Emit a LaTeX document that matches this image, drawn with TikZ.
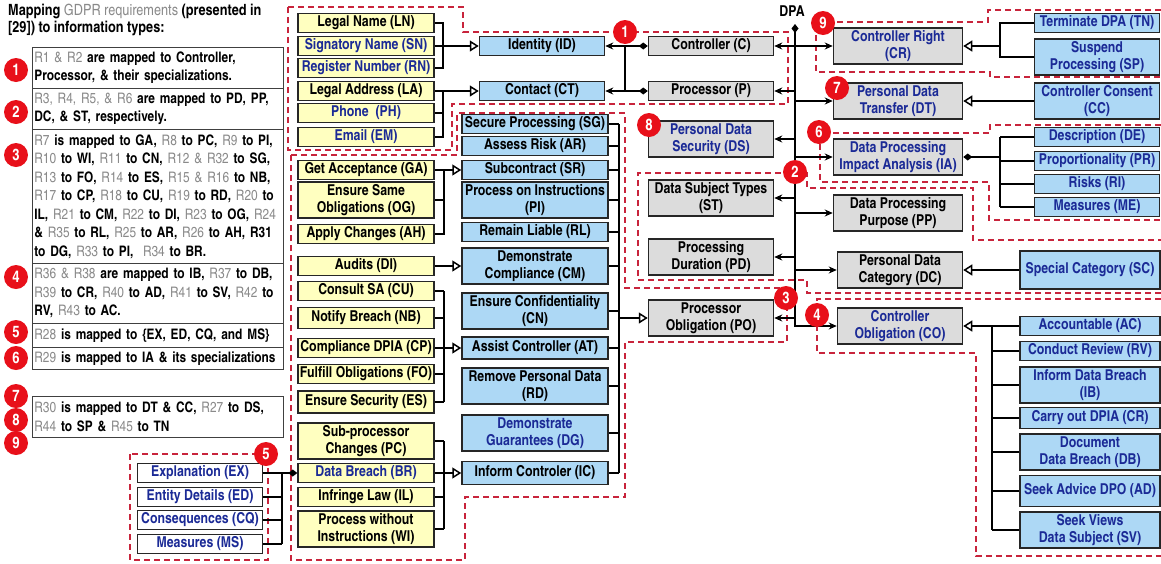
\documentclass[tikz,border=0pt]{standalone}
\usepackage{fontspec}
\setmainfont{texgyreheroscn}[Extension=.otf, UprightFont=*-regular, BoldFont=*-bold, ItalicFont=*-italic, BoldItalicFont=*-bolditalic]
\usetikzlibrary{arrows.meta, positioning}
\definecolor{boxyellow}{HTML}{FFFFC0}
\definecolor{boxblue}{HTML}{ADD8F5}
\definecolor{boxgray}{HTML}{DCDCDC}
\definecolor{txtnavy}{HTML}{1B2A96}
\definecolor{grpred}{HTML}{C8243C}
\definecolor{badgered}{HTML}{E8101A}
\definecolor{reqgray}{HTML}{8A8A8A}
\newcommand{\req}[1]{{\mdseries\color{reqgray}#1}}

\begin{document}
\begin{tikzpicture}[x=1pt, y=-1pt,
  box/.style={draw=black!85, line width=1.5pt, inner xsep=2pt, inner ysep=2.5pt, minimum height=19pt, align=center, font=\bfseries\fontsize{15}{17}\selectfont},
  ybox/.style={box, fill=boxyellow, minimum width=136pt},
  bbox/.style={box, fill=boxblue},
  gbox/.style={box, fill=boxgray, minimum width=125pt},
  wbox/.style={box, fill=white, minimum width=125pt},
  navy/.style={text=txtnavy},
  link/.style={line width=1.5pt, draw=black},
  opentip/.style={-{Triangle[open, length=9pt, width=11pt]}},
  dia/.style={{Diamond[length=9pt, width=7pt]}-{Stealth[length=8pt, width=7pt]}},
  group/.style={draw=grpred, dash pattern=on 6pt off 4pt, line width=1.3pt},
  badge/.style={circle, fill=badgered, text=white, inner sep=0pt, minimum size=24pt, font=\bfseries\fontsize{16}{16}\selectfont},
  row/.style={draw=black!75, line width=0.8pt, anchor=north west, text width=247pt, inner xsep=2pt, inner ysep=0pt, align=left, font=\bfseries\fontsize{14.5}{18.5}\selectfont}]
\useasboundingbox (0,0) rectangle (1161,563);

% Dashed groups
\draw[group] (288,7) -- (463,7) -- (463,32) -- (788,32) -- (788,104) -- (452,104) -- (452,150) -- (288,150) -- cycle;
\draw[group] (291,155) -- (457,155) -- (457,113) -- (625,113) -- (625,288) -- (787,288) -- (787,342) -- (625,342) -- (625,497) -- (465,497) -- (465,560) -- (291,560) -- cycle;
\draw[group] (1161,293) -- (807,293) -- (807,280) -- (638,280) -- (638,173) -- (807,173) -- (807,188) -- (973,188) -- (973,240) -- (1161,240);
\draw[group] (1161,299) -- (817,299) -- (817,353) -- (976,353) -- (976,556) -- (1161,556);
\draw[group] (1161,125) -- (990,125) -- (990,133) -- (820,133) -- (820,182) -- (989,182) -- (989,220) -- (1161,220);
\draw[group] (1161,10) -- (988,10) -- (988,22) -- (816,22) -- (816,72) -- (990,72) -- (990,77) -- (1161,77);
\draw[group] (130,454) rectangle (268,560);

% Mapping table
\node[anchor=north west, align=left, inner sep=0pt, font=\bfseries\fontsize{15.5}{17}\selectfont] (title) at (8,4)
  {Mapping \req{GDPR requirements} (presented in\\{}[29]) to information types:};
\node[row, minimum height=41pt] (row1) at (32,47)
  {\req{R1 \& R2} are mapped to Controller,\\ Processor, \& their specializations.};
\node[row, minimum height=41pt] (row2) at (32,88)
  {\req{R3, R4, R5, \& R6} are mapped to PD, PP,\\ DC, \& ST, respectively.};
\node[row, minimum height=134pt] (row3) at (32,129)
  {\req{R7} is mapped to GA, \req{R8} to PC, \req{R9} to PI,\\
   \req{R10} to WI, \req{R11} to CN, \req{R12 \& R32} to SG,\\
   \req{R13} to FO, \req{R14} to ES, \req{R15 \& R16} to NB,\\
   \req{R17} to CP, \req{R18} to CU, \req{R19} to RD, \req{R20} to\\
   IL, \req{R21} to CM, \req{R22} to DI, \req{R23} to OG, \req{R24}\\
   \& \req{R35} to RL, \req{R25} to AR, \req{R26} to AH, R31\\
   to DG, \req{R33} to PI,\ \ \req{R34} to BR.};
\node[row, minimum height=60pt] (row4) at (32,263)
  {\req{R36 \& R38} are mapped to IB, \req{R37} to DB,\\ \req{R39} to CR, \req{R40} to AD, \req{R41} to SV, \req{R42} to\\ RV, \req{R43} to AC.};
\node[row, minimum height=24pt] (row5) at (32,323)
  {\req{R28} is mapped to \{EX, ED, CQ, and MS\}};
\node[row, minimum height=22pt] (row6) at (32,347)
  {\req{R29} is mapped to IA \& its specializations};
\node[row, minimum height=41pt] (row7) at (32,396)
  {\req{R30} is mapped to DT \& CC, \req{R27} to DS,\\ \req{R44} to SP \& \req{R45} to TN};

% Identity and contact
\node[ybox] (ln) at (366,23) {Legal Name (LN)};
\node[ybox, navy] (sn) at (366,46) {Signatory Name (SN)};
\node[ybox, navy] (rn) at (366,68) {Register Number (RN)};
\node[ybox] (la) at (366,91) {Legal Address (LA)};
\node[ybox, navy] (ph) at (366,113) {Phone\ \ (PH)};
\node[ybox, navy] (em) at (366,137) {Email (EM)};
\node[bbox, minimum width=125pt] (id) at (542,46) {Identity (ID)};
\node[bbox, minimum width=125pt] (ct) at (542,91) {Contact (CT)};
\node[gbox] (c) at (711,46) {Controller (C)};
\node[gbox] (p) at (711,91) {Processor (P)};

% Processor obligations
\node[ybox] (ga) at (366,170) {Get Acceptance (GA)};
\node[ybox] (og) at (366,200) {Ensure Same\\Obligations (OG)};
\node[ybox] (ah) at (366,234) {Apply Changes (AH)};
\node[ybox] (di) at (366,266) {Audits (DI)};
\node[ybox] (cu) at (366,291) {Consult SA (CU)};
\node[ybox, minimum height=21pt] (nb) at (366,318) {Notify Breach (NB)};
\node[ybox] (cp) at (366,348) {Compliance DPIA (CP)};
\node[ybox] (fo) at (366,374) {Fulfill Obligations (FO)};
\node[ybox, minimum height=22pt] (es) at (366,402) {Ensure Security (ES)};
\node[ybox] (pc) at (366,441) {Sub-processor\\Changes (PC)};
\node[ybox, navy] (br) at (366,473) {Data Breach (BR)};
\node[ybox] (il) at (366,497) {Infringe Law (IL)};
\node[ybox] (wi) at (366,529) {Process without\\Instructions (WI)};

\node[bbox, minimum width=146pt] (sg) at (535,124) {Secure Processing (SG)};
\node[bbox, minimum width=146pt] (ar) at (535,146) {Assess Risk (AR)};
\node[bbox, minimum width=146pt] (sr) at (535,170) {Subcontract (SR)};
\node[bbox, minimum width=146pt] (pi) at (535,200) {Process on Instructions\\(PI)};
\node[bbox, minimum width=146pt] (rl) at (535,232) {Remain Liable (RL)};
\node[bbox, minimum width=146pt] (cm) at (535,266) {Demonstrate\\Compliance (CM)};
\node[bbox, minimum width=146pt] (cn) at (535,311) {Ensure Confidentiality\\(CN)};
\node[bbox, minimum width=146pt, minimum height=22pt] (at) at (535,348) {Assist Controller (AT)};
\node[bbox, minimum width=146pt] (rd) at (535,386) {Remove Personal Data\\(RD)};
\node[bbox, minimum width=146pt, navy] (dg) at (535,433) {Demonstrate\\Guarantees (DG)};
\node[bbox, minimum width=146pt, minimum height=23pt] (ic) at (535,473) {Inform Controler (IC)};

% Breach details
\node[wbox, navy] (ex) at (200,473) {Explanation (EX)};
\node[wbox, navy] (ed) at (200,497) {Entity Details (ED)};
\node[wbox, navy] (cq) at (200,520) {Consequences (CQ)};
\node[wbox, navy] (ms) at (200,544) {Measures (MS)};

% DPA information types
\node[gbox, navy] (ds) at (711,139) {Personal Data\\Security (DS)};
\node[gbox] (st) at (711,198) {Data Subject Types\\(ST)};
\node[gbox] (pd) at (711,257) {Processing\\Duration (PD)};
\node[gbox] (po) at (711,318) {Processor\\Obligation (PO)};
\node[gbox, navy, minimum width=129pt] (cright) at (898,46) {Controller Right\\(CR)};
\node[gbox, navy, minimum width=129pt] (dt) at (898,101) {Personal Data\\Transfer (DT)};
\node[gbox, navy, minimum width=129pt] (ia) at (898,157) {Data Processing\\Impact Analysis (IA)};
\node[gbox, minimum width=129pt] (pp) at (898,213) {Data Processing\\Purpose (PP)};
\node[gbox] (dc) at (900,270) {Personal Data\\Category (DC)};
\node[gbox, navy] (co) at (900,326) {Controller\\Obligation (CO)};

% Right column
\node[bbox, navy, minimum width=125pt] (tn) at (1097,23) {Terminate DPA (TN)};
\node[bbox, navy, minimum width=125pt] (sp) at (1097,57) {Suspend\\Processing (SP)};
\node[bbox, navy, minimum width=125pt] (cc) at (1097,101) {Controller Consent\\(CC)};
\node[bbox, navy, minimum width=125pt] (de) at (1097,137) {Description (DE)};
\node[bbox, navy, minimum width=125pt] (pr) at (1097,161) {Proportionality (PR)};
\node[bbox, navy, minimum width=125pt] (ri) at (1097,184) {Risks (RI)};
\node[bbox, navy, minimum width=125pt] (me) at (1097,207) {Measures (ME)};
\node[bbox, navy, minimum width=140pt, minimum height=38pt] (sc) at (1090,270) {Special Category (SC)};
\node[bbox, navy, minimum width=140pt] (ac) at (1090,326) {Accountable (AC)};
\node[bbox, navy, minimum width=140pt] (rv) at (1090,351) {Conduct Review (RV)};
\node[bbox, navy, minimum width=140pt] (ib) at (1090,385) {Inform Data Breach\\(IB)};
\node[bbox, navy, minimum width=140pt, minimum height=21pt] (carry) at (1090,418) {Carry out DPIA (CR)};
\node[bbox, navy, minimum width=140pt] (db) at (1090,452) {Document\\Data Breach (DB)};
\node[bbox, navy, minimum width=140pt, minimum height=31pt] (ad) at (1090,491) {Seek Advice DPO (AD)};
\node[bbox, navy, minimum width=140pt] (sv) at (1090,530) {Seek Views\\Data Subject (SV)};

% Connectors: identity and contact
\coordinate (j1) at (443,0);
\draw[link] (ln.east) -| (j1 |- rn.east) -- (rn.east);
\draw[link, opentip] (sn.east) -- (id.west);
\draw[link, opentip] (la.east) -- (ct.west);
\draw[link] (la.east -| j1) |- (em.east);
\draw[link] (ph.east) -- (ph.east -| j1);
\coordinate (j2) at (625,0);
\draw[link, dia] (c.west) -- (id.east);
\draw[link, dia] (p.west) -- (ct.east);
\draw[link] (j2 |- c.west) -- (j2 |- p.west);

% Connectors: DPA
\node[font=\bfseries\fontsize{15}{15}\selectfont, inner sep=0pt] (dpa) at (792,11) {DPA};
\coordinate (dtop) at (795,24);
\draw[link, dia] (dtop) |- (co.west);
\foreach \n in {c,p,ds,st,pd,po}
  \draw[link, -{Stealth[length=8pt, width=7pt]}] (dtop |- \n.east) -- (\n.east);
\foreach \n in {cright,dt,ia,pp,dc}
  \draw[link, -{Stealth[length=8pt, width=7pt]}] (dtop |- \n.west) -- (\n.west);

% Connectors: processor obligations
\coordinate (j3) at (444,0);
\draw[link, opentip] (ga.east) -- (sr.west);
\draw[link] (ga.east -| j3) |- (ah.east);
\draw[link] (og.east) -- (og.east -| j3);
\draw[link, opentip] (di.east) -- (cm.west);
\draw[link, opentip] (cp.east) -- (at.west);
\draw[link] (j3 |- cu.east) -- (j3 |- es.east);
\foreach \n in {cu,nb,fo,es}
  \draw[link] (\n.east) -- (j3 |- \n.east);
\draw[link, opentip] (br.east) -- (ic.west);
\draw[link] (j3 |- pc.east) -- (j3 |- wi.east);
\foreach \n in {pc,il,wi}
  \draw[link] (\n.east) -- (j3 |- \n.east);
\coordinate (j4) at (619,0);
\foreach \n in {sg,ar,sr,pi,rl,cm,cn,at,rd,dg,ic}
  \draw[link] (\n.east) -- (j4 |- \n.east);
\draw[link] (j4 |- sg.east) -- (j4 |- ic.east);
\draw[link, opentip] (j4 |- po.west) -- (po.west);

% Connectors: breach details
\coordinate (j7) at (282,0);
\draw[link, -{Diamond[length=9pt, width=7pt]}] (ex.east) -- (br.west);
\draw[link] (j7 |- ex.east) -- (j7 |- ms.east);
\foreach \n in {ed,cq,ms}
  \draw[link] (\n.east) -- (j7 |- \n.east);

% Connectors: right side
\coordinate (j5) at (1000,0);
\draw[link] (tn.west) -| (j5 |- sp.west) -- (sp.west);
\draw[link, opentip] (j5 |- cright.east) -- (cright.east);
\draw[link, opentip] (cc.west) -- (dt.east);
\draw[link, {Diamond[length=9pt, width=7pt]}-] (ia.east) -- (j5 |- ia.east);
\draw[link] (j5 |- de.west) -- (j5 |- me.west);
\foreach \n in {de,pr,ri,me}
  \draw[link] (\n.west) -- (j5 |- \n.west);
\draw[link, opentip] (sc.west) -- (dc.east);
\coordinate (j6) at (992,0);
\draw[link, opentip] (ac.west) -- (co.east);
\draw[link] (j6 |- ac.west) -- (j6 |- sv.west);
\foreach \n in {rv,ib,carry,db,ad,sv}
  \draw[link] (\n.west) -- (j6 |- \n.west);

% Badges
\node[badge] (t1) at (16,70) {1};
\node[badge] (t2) at (16,112) {2};
\node[badge] (t3) at (16,155) {3};
\node[badge] (t4) at (16,277) {4};
\node[badge] (t5) at (16,332) {5};
\node[badge] (t6) at (16,358) {6};
\node[badge] (t7) at (16,396) {7};
\node[badge] (t8) at (16,420) {8};
\node[badge] (t9) at (16,443) {9};
\node[badge] (g1) at (625,32) {1};
\node[badge] (g2) at (795,172) {2};
\node[badge] (g3) at (786,298) {3};
\node[badge] (g4) at (817,315) {4};
\node[badge] (g5) at (266,454) {5};
\node[badge] (g6) at (819,132) {6};
\node[badge] (g7) at (837,88) {7};
\node[badge] (g8) at (649,125) {8};
\node[badge] (g9) at (823,23) {9};
\end{tikzpicture}
\end{document}
